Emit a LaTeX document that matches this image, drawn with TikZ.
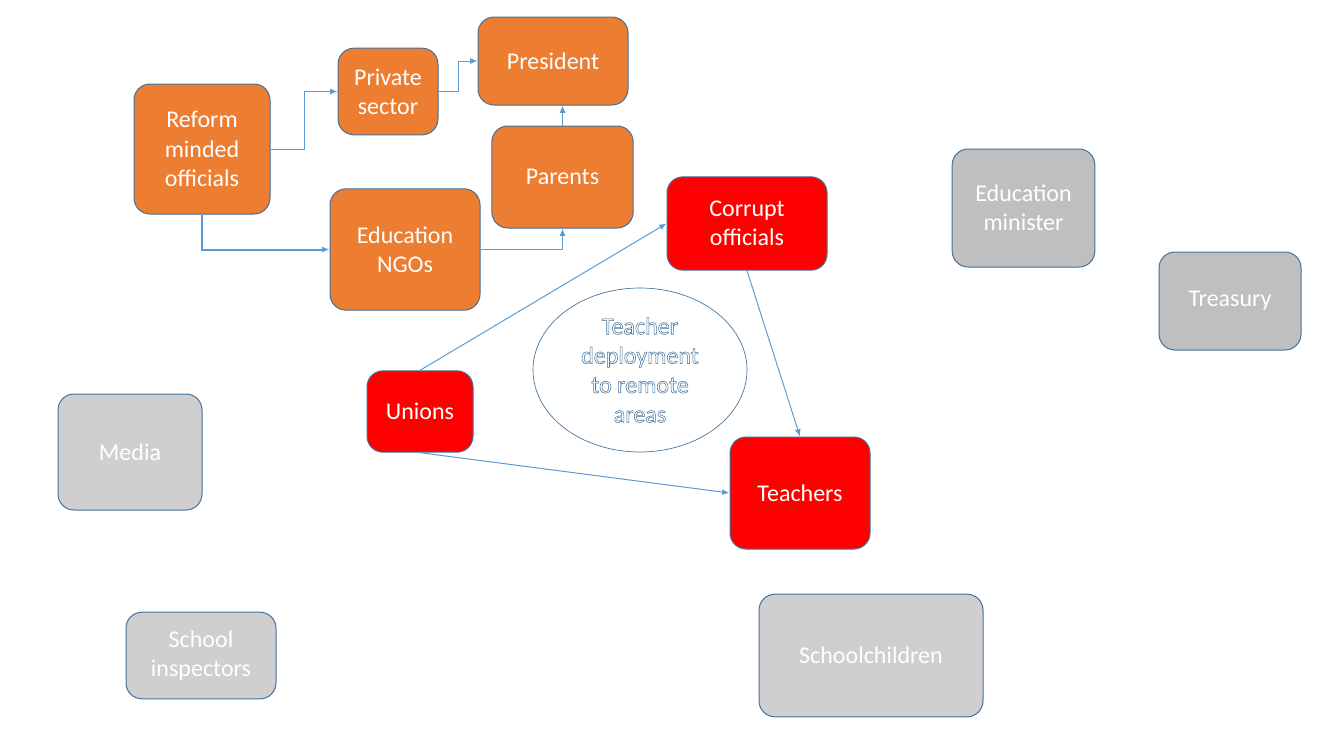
\documentclass[tikz,border=0pt]{standalone}
\usepackage{fontspec}
\setmainfont{Carlito}
\definecolor{orangeFill}{RGB}{237,125,49}
\definecolor{redFill}{RGB}{255,0,0}
\definecolor{greyFill}{RGB}{191,191,191}
\definecolor{lightGreyFill}{RGB}{208,206,206}
\definecolor{borderColor}{RGB}{65,113,156}
\definecolor{linkColor}{RGB}{91,155,213}
\usetikzlibrary{shapes.geometric, arrows, arrows.meta, positioning, calc}
\tikzstyle{actor} = [rectangle, rounded corners=12pt, align=center, draw=borderColor, line width=0.75pt, text=white, inner sep=2pt, font=\fontsize{18}{22}\selectfont]
\tikzstyle{reformer} = [actor, fill=orangeFill]
\tikzstyle{blocker} = [actor, fill=redFill]
\tikzstyle{bystander} = [actor, fill=greyFill]
\tikzstyle{outsider} = [actor, fill=lightGreyFill]
\tikzstyle{topic} = [ellipse, align=center, draw=borderColor, line width=0.5pt, text=borderColor, inner sep=0pt, font=\fontsize{18}{22}\selectfont]
\tikzstyle{link} = [line width=0.75pt, ->, >={Latex[length=5.5pt,width=4.5pt]}, linkColor]
\newcommand{\hollow}[1]{\special{pdf:literal direct 1 Tr 0.4 w}#1\special{pdf:literal direct 0 Tr}}

\begin{document}
\begin{tikzpicture}[x=0.75pt, y=-0.75pt]
            \useasboundingbox (0,0) rectangle (1333,750);
            \node (reform) [reformer, minimum width=102pt, minimum height=97.5pt] at (202,149) {Reform\\minded\\officials};
            \node (private) [reformer, minimum width=75pt, minimum height=65pt] at (388,91.5) {Private\\sector};
            \node (president) [reformer, minimum width=112.5pt, minimum height=66pt] at (553,61) {President};
            \node (parents) [reformer, minimum width=106pt, minimum height=76.5pt] at (562.5,177) {Parents};
            \node (ngos) [reformer, minimum width=112.5pt, minimum height=91pt] at (405,249.5) {Education\\NGOs};
            \node (corrupt) [blocker, minimum width=120pt, minimum height=70pt] at (747,223.5) {Corrupt\\officials};
            \node (unions) [blocker, minimum width=79.5pt, minimum height=61pt] at (420,411.5) {Unions};
            \node (teachers) [blocker, minimum width=105pt, minimum height=84pt] at (800,493) {Teachers};
            \node (deployment) [topic, minimum width=160.5pt, minimum height=123pt] at (640,370) {\hollow{Teacher}\\\hollow{deployment}\\\hollow{to remote}\\\hollow{areas}};
            \node (minister) [bystander, minimum width=107pt, minimum height=88.5pt] at (1023.5,208) {Education\\minister};
            \node (treasury) [bystander, minimum width=106.5pt, minimum height=73.5pt] at (1230,301) {Treasury};
            \node (media) [outsider, minimum width=108pt, minimum height=87pt] at (130,452) {Media};
            \node (inspectors) [outsider, minimum width=112.5pt, minimum height=65pt] at (201,655.5) {School\\inspectors};
            \node (children) [outsider, minimum width=168pt, minimum height=92pt] at (871,655.5) {Schoolchildren};

            \draw [link] (reform.east) -- ++(34,0) |- (private);
            \draw [link] (private.east) -- ++(20,0) |- (president);
            \draw [link] (parents.north) -- (parents.north |- president.south);
            \draw [link, line width=1.5pt] (reform.south) |- (ngos);
            \draw [link] (ngos.east) -| (parents.south);
            \draw [link] (unions.north) -- (corrupt.west);
            \draw [link] (corrupt.south) -- (teachers.north);
            \draw [link] (unions.south) -- (teachers.west);
        \end{tikzpicture}
\end{document}
